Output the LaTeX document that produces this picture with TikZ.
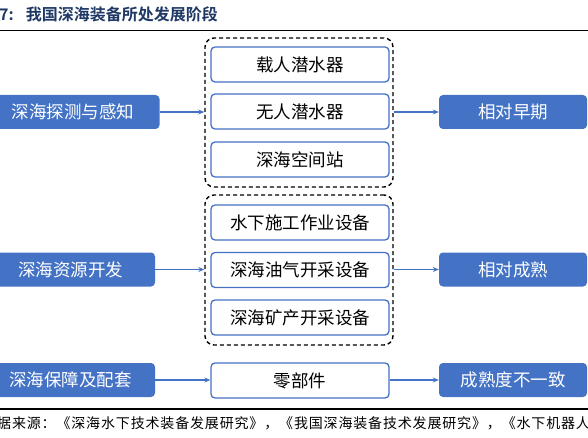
\documentclass[tikz,border=0pt]{standalone}
\usepackage{fontspec}
\setmainfont{Noto Sans CJK SC}
\newfontfamily\cjkbold{Noto Sans CJK SC Bold}
\newfontfamily\cjksource[LetterSpace=6]{Noto Sans CJK SC}
\usetikzlibrary{arrows.meta}
\definecolor{kblue}{HTML}{4472C4}
\definecolor{knavy}{HTML}{1F3864}
\tikzset{
  box/.style={rounded corners=4pt, align=center, minimum height=34pt, inner sep=0pt, font=\fontsize{17.5}{20}\selectfont},
  kstage/.style={box, fill=kblue, text=white, minimum width=148pt},
  kfield/.style={box, fill=kblue, text=white, minimum width=170pt},
  kitem/.style={box, draw=kblue, line width=1.3pt, fill=white, minimum width=178pt, minimum height=35pt},
  kgroup/.style={draw, dashed, dash pattern=on 4pt off 3pt, line width=1.4pt, rounded corners=9pt, minimum width=188pt, inner sep=0pt},
  flow/.style={-{Stealth[length=6pt, width=5pt]}, kblue, line width=1.1pt},
}

\begin{document}
\begin{tikzpicture}[x=1pt, y=-1pt]
    \useasboundingbox (0,0) rectangle (588,438);
    \clip (0,0) rectangle (588,438);
    % title and rules
    \node[anchor=west, text=knavy, font=\cjkbold\fontsize{16}{18}\selectfont, inner sep=0pt] (title) at (-1,14) {7:\hspace{12pt}我国深海装备所处发展阶段};
    \draw[line width=1.5pt] (0,30.5) -- (588,30.5);
    \draw[line width=1.5pt] (0,409) -- (588,409);
    \node[anchor=west, font=\cjksource\fontsize{14}{16}\selectfont, inner sep=0pt] (source) at (-3,423) {据来源：《深海水下技术装备发展研究》，《我国深海装备技术发展研究》，《水下机器人};
    % fields
    \node[kfield, minimum width=173pt] (detect) at (73,112) {深海探测与感知};
    \node[kfield, minimum width=169pt] (resource) at (70.5,269.5) {深海资源开发};
    \node[kfield, minimum width=169pt] (support) at (70.5,380) {深海保障及配套};
    % equipment groups
    \node[kgroup, minimum height=149pt] (gone) at (299,112.5) {};
    \node[kgroup, minimum height=150pt] (gtwo) at (299,270) {};
    \node[kitem] (manned) at (300,64.5) {载人潜水器};
    \node[kitem] (unmanned) at (300,111.5) {无人潜水器};
    \node[kitem] (station) at (300,159.5) {深海空间站};
    \node[kitem] (construct) at (300,222.5) {水下施工作业设备};
    \node[kitem] (oilgas) at (300,270) {深海油气开采设备};
    \node[kitem] (mineral) at (300,317.5) {深海矿产开采设备};
    \node[kitem] (parts) at (300,380.5) {零部件};
    % stages
    \node[kstage] (early) at (513,112) {相对早期};
    \node[kstage] (mature) at (513,269.5) {相对成熟};
    \node[kstage] (mixed) at (513,380) {成熟度不一致};
    % links
    \draw[flow] (detect) -- (gone.west |- detect);
    \draw[flow] (gone.east |- early) -- (early);
    \draw[flow] (resource) -- (gtwo.west |- resource);
    \draw[flow] (gtwo.east |- mature) -- (mature);
    \draw[flow] (support) -- (parts.west |- support);
    \draw[flow] (parts.east |- mixed) -- (mixed);
\end{tikzpicture}
\end{document}
